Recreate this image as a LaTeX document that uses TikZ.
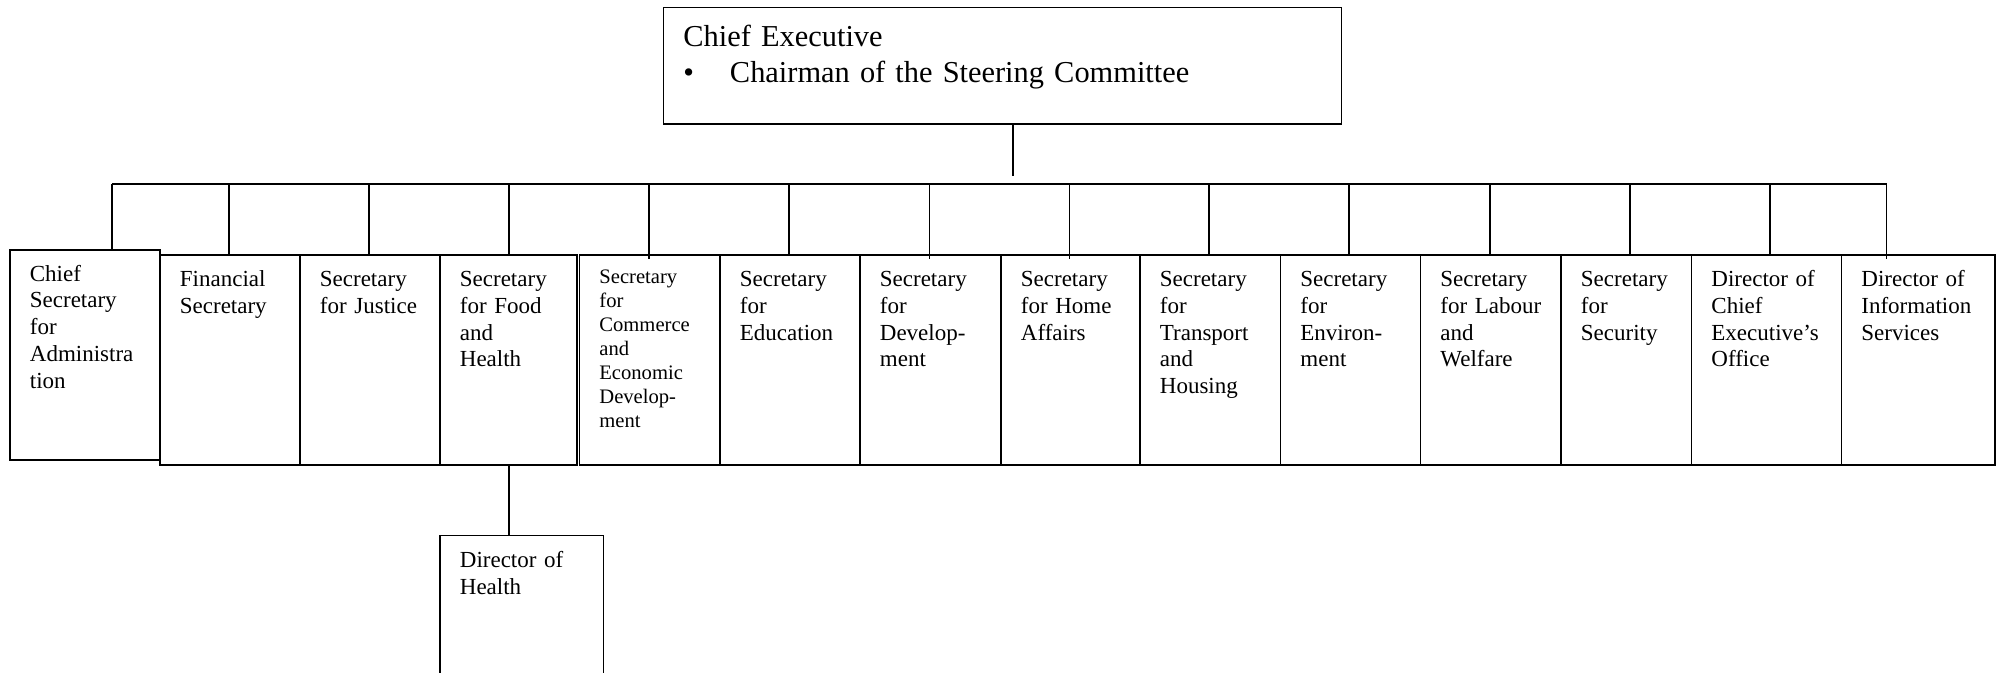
\documentclass[tikz,border=0pt]{standalone}
\usepackage{fontspec}
\setmainfont{Liberation Serif}
\usetikzlibrary{calc}
\tikzset{
  orgbox/.style={draw, line width=0.9pt, anchor=north west, inner xsep=10pt, inner ysep=0pt,
    align=left, font=\fontsize{11.5}{13.35}\selectfont, text height=16pt, text depth=89pt,
    execute at begin node={\hyphenpenalty=10000\exhyphenpenalty=10000}},
  smallbox/.style={orgbox, font=\fontsize{10.3}{12}\selectfont, text height=14.3pt, text depth=90.7pt},
  headbox/.style={orgbox, font=\fontsize{15.2}{17.85}\selectfont, text height=19.65pt, text depth=38.65pt},
  conn/.style={line width=0.85pt},
}
\begin{document}
\begin{tikzpicture}[x=0.5pt,y=-0.5pt]
\useasboundingbox (0,0) rectangle (2002,673);
\fill[white] (0,0) rectangle (2002,673);
\clip (0,0) rectangle (2002,673);

% head
\node[headbox, text width=319pt] (ce) at (662.5,6.7)
  {Chief~Executive\\\makebox[23.3pt][l]{•}Chairman of the Steering Committee};

% row of boxes
\node[orgbox, text width=55pt, text height=15.7pt, text depth=89.3pt] (cs) at (9,249) {Chief\\Secretary\\for\\Administra\\tion};
\node[orgbox, text width=50pt] (fs) at (159,254) {Financial\\Secretary};
\node[orgbox, text width=50pt] (js) at (299,254) {Secretary\\for~Justice};
\node[orgbox, text width=48.5pt] (fh) at (439,254) {Secretary\\for~Food\\and\\Health};
\node[smallbox, text width=50.25pt] (com) at (578.5,254) {Secretary\\for\\Commerce\\and\\Economic\\Develop-\\ment};
\node[orgbox, text width=50pt] (edu) at (719,254) {Secretary\\for\\Education};
\node[orgbox, text width=50.5pt] (dev) at (859,254) {Secretary\\for\\Develop-\\ment};
\node[orgbox, text width=49.5pt] (ha) at (1000,254) {Secretary\\for~Home\\Affairs};
\node[orgbox, text width=50.25pt] (th) at (1139,254) {Secretary\\for\\Transport\\and\\Housing};
\node[orgbox, text width=50pt] (env) at (1279.5,254) {Secretary\\for\\Environ-\\ment};
\node[orgbox, text width=50.25pt] (lw) at (1419.5,254) {Secretary\\for~Labour\\and\\Welfare};
\node[orgbox, text width=45.25pt] (sec) at (1560,254) {Secretary\\for\\Security};
\node[orgbox, text width=55pt] (dceo) at (1690.5,254) {Director~of\\Chief\\Executive’s\\Office};
\node[orgbox, text width=56.75pt] (dis) at (1840.5,254) {Director~of\\Information\\Services};

% director of health
\node[orgbox, text width=61.75pt, text depth=100pt] (dh) at (439,534.5) {Director~of\\Health};

% connectors
\coordinate (ceend) at (1013,175.7);
\draw[conn] (ceend |- ce.south) -- (ceend);

\coordinate (b1) at (112,184);
\coordinate (b2) at (229,184);
\coordinate (b3) at (369,184);
\coordinate (b4) at (509,184);
\coordinate (b5) at (649,184);
\coordinate (b6) at (789,184);
\coordinate (b7) at (929.5,184);
\coordinate (b8) at (1069.5,184);
\coordinate (b9) at (1209,184);
\coordinate (b10) at (1349,184);
\coordinate (b11) at (1490,184);
\coordinate (b12) at (1630,184);
\coordinate (b13) at (1770,184);
\coordinate (b14) at (1886.5,184);
\draw[conn] (b1) -- (b14);
\foreach \b/\n in {b1/cs,b2/fs,b3/js,b4/fh,b6/edu,b9/th,b10/env,b11/lw,b12/sec,b13/dceo}
  \draw[conn] (\b) -- (\b |- \n.north);
\foreach \b/\n in {b5/com,b7/dev,b8/ha,b14/dis}
  \draw[conn] (\b) -- ($(\b |- \n.north)+(0,5.5)$);

\coordinate (dhx) at (509,464);
\draw[conn] (dhx |- fh.south) -- (dhx |- dh.north);
\end{tikzpicture}
\end{document}
